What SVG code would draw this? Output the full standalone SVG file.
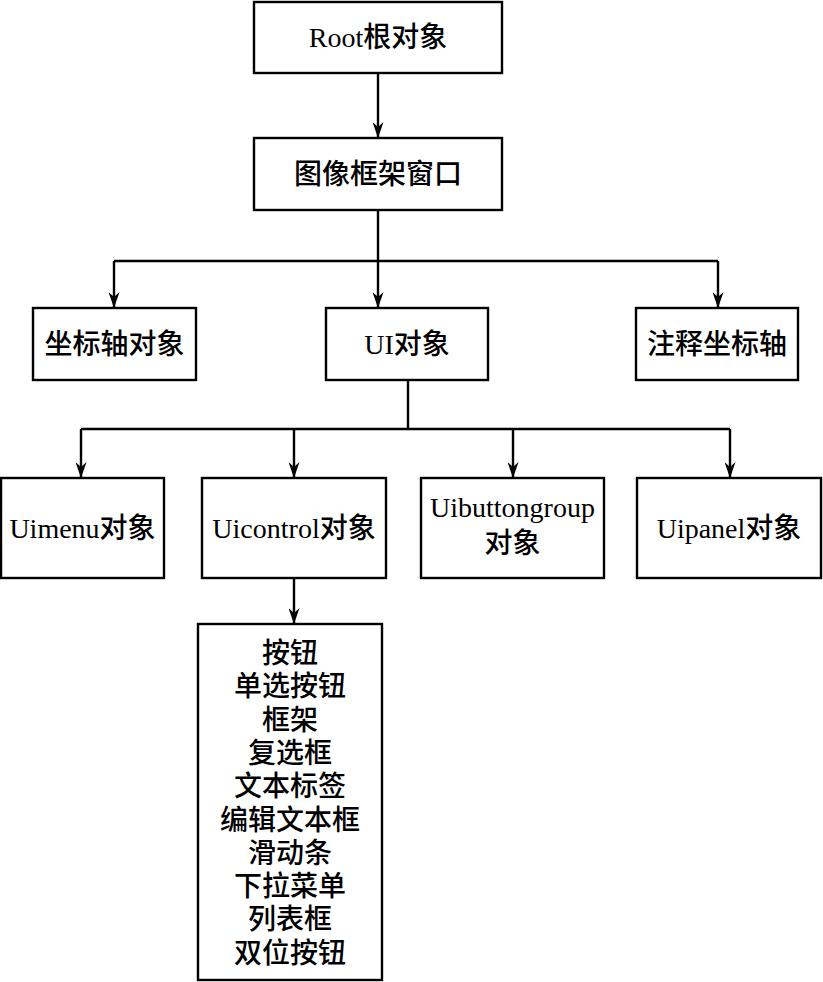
<svg xmlns="http://www.w3.org/2000/svg" width="823" height="982" viewBox="0 0 823 982">
<style>
.box{fill:#fff;stroke:#000;stroke-width:2.4}
.t{font-family:"Liberation Serif","Noto Sans CJK SC",serif;font-size:28px;font-weight:500;text-anchor:middle;fill:#000}
.c{fill:none;stroke:#000;stroke-width:2.4}
</style>
<defs>
<marker id="arr" viewBox="0 0 16 11" refX="16" refY="5.5" markerWidth="16" markerHeight="11" orient="auto" markerUnits="userSpaceOnUse">
<path d="M0,0 L16,5.5 L0,11 L5,5.5 z" fill="#000"/>
</marker>
</defs>
<rect width="823" height="982" fill="#fff"/>
<g id="connectors">
<path class="c" d="M378,73 V138" marker-end="url(#arr)"/>
<path class="c" d="M378,210 V308" marker-end="url(#arr)"/>
<path class="c" d="M114,261 H718"/>
<path class="c" d="M114,261 V308" marker-end="url(#arr)"/>
<path class="c" d="M718,261 V308" marker-end="url(#arr)"/>
<path class="c" d="M408,380 V429"/>
<path class="c" d="M81,429 H730"/>
<path class="c" d="M81,429 V478" marker-end="url(#arr)"/>
<path class="c" d="M294,429 V478" marker-end="url(#arr)"/>
<path class="c" d="M513,429 V478" marker-end="url(#arr)"/>
<path class="c" d="M730,429 V478" marker-end="url(#arr)"/>
<path class="c" d="M294,578 V624" marker-end="url(#arr)"/>
</g>
<g id="root"><rect class="box" x="254" y="2" width="248" height="71"/><text class="t" x="378" y="47">Root根对象</text></g>
<g id="frame"><rect class="box" x="254" y="138" width="248" height="72"/><text class="t" x="378" y="184">图像框架窗口</text></g>
<g id="axes"><rect class="box" x="33" y="308" width="163" height="72"/><text class="t" x="114.5" y="354">坐标轴对象</text></g>
<g id="ui"><rect class="box" x="326" y="308" width="162" height="72"/><text class="t" x="407" y="354">UI对象</text></g>
<g id="annotation"><rect class="box" x="636" y="308" width="162" height="72"/><text class="t" x="717" y="354">注释坐标轴</text></g>
<g id="uimenu"><rect class="box" x="1" y="478" width="163" height="100"/><text class="t" x="82.5" y="538">Uimenu对象</text></g>
<g id="uicontrol"><rect class="box" x="202" y="478" width="184" height="100"/><text class="t" x="294" y="538">Uicontrol对象</text></g>
<g id="uibuttongroup"><rect class="box" x="421" y="478" width="183" height="100"/><text class="t" x="512.5" y="517">Uibuttongroup</text><text class="t" x="512.5" y="553">对象</text></g>
<g id="uipanel"><rect class="box" x="637" y="478" width="184" height="100"/><text class="t" x="729" y="538">Uipanel对象</text></g>
<g id="controls"><rect class="box" x="198" y="624" width="184" height="356"/>
<text class="t" x="290" y="663">按钮</text>
<text class="t" x="290" y="696.3">单选按钮</text>
<text class="t" x="290" y="729.6">框架</text>
<text class="t" x="290" y="762.9">复选框</text>
<text class="t" x="290" y="796.2">文本标签</text>
<text class="t" x="290" y="829.5">编辑文本框</text>
<text class="t" x="290" y="862.8">滑动条</text>
<text class="t" x="290" y="896.1">下拉菜单</text>
<text class="t" x="290" y="929.4">列表框</text>
<text class="t" x="290" y="962.7">双位按钮</text>
</g>
</svg>
